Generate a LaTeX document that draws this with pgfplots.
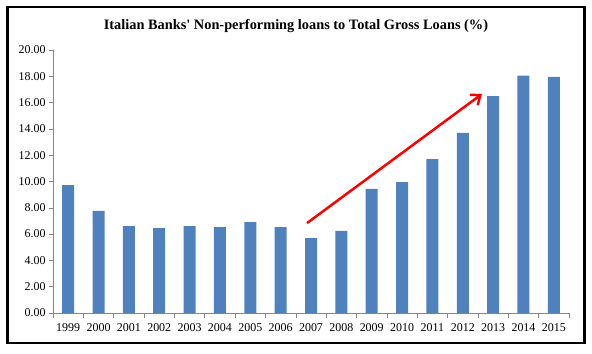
\documentclass[border=0pt]{standalone}
\usepackage{pgfplots}
\pgfplotsset{compat=1.18}
\usetikzlibrary{arrows.meta}
\usepackage{fontspec}
\setmainfont{Liberation Serif}
\definecolor{barblue}{HTML}{4F81BD}
\definecolor{axgray}{HTML}{868686}
\begin{document}
\begin{tikzpicture}[x=1bp,y=1bp]
\useasboundingbox (-53,-40) rectangle (539,313);
\draw[line width=2.6bp] (-45.2,-30) rectangle (531.5,306);
\node[font=\bfseries\fontsize{14.4}{16}\selectfont] at (243,287) {Italian Banks\textquotesingle\ Non-performing loans to Total Gross Loans (\%)};
\begin{axis}[
  at={(0,0)}, anchor=south west,
  scale only axis, width=516bp, height=263bp,
  xmin=-0.5, xmax=16.5, ymin=0, ymax=20,
  axis x line*=bottom, axis y line*=left,
  axis line style={axgray},
  ytick={0,2,...,20},
  yticklabel style={/pgf/number format/.cd, fixed, fixed zerofill, precision=2, assume math mode=true},
  ticklabel style={font=\fontsize{12}{14}\selectfont},
  xtick={0,...,16},
  xticklabels={1999,2000,2001,2002,2003,2004,2005,2006,2007,2008,2009,2010,2011,2012,2013,2014,2015},
  major x tick style={draw=none},
  minor xtick={-0.5,0.5,...,16.5},
  minor tick length=5bp,
  major tick length=4bp,
  tick align=outside,
  tick style={axgray, line width=0.6pt},
  xticklabel style={yshift=-3bp},
  ybar, bar width=12bp,
  clip=false,
]
\addplot[fill=barblue, draw=none] coordinates {
(0,9.73) (1,7.76) (2,6.60) (3,6.46) (4,6.60) (5,6.54) (6,6.92) (7,6.54)
(8,5.70) (9,6.24) (10,9.43) (11,9.96) (12,11.71) (13,13.69) (14,16.50) (15,18.05) (16,17.95)};
\draw[red, line width=2.5bp, -{Straight Barb[length=8bp,width=13bp]}] (axis cs:7.87,6.84) -- (axis cs:13.63,16.65);
\end{axis}
\end{tikzpicture}
\end{document}
